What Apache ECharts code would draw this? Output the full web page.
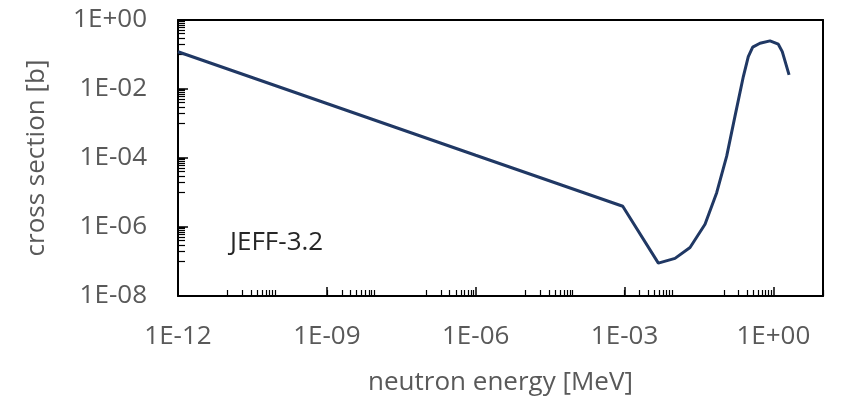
<!DOCTYPE html>
<html>
<head>
<meta charset="utf-8">
<script src="https://cdn.jsdelivr.net/npm/echarts@6/dist/echarts.min.js"></script>
<style>
    html, body { margin: 0; padding: 0; background: #fff; }
    #chart { width: 841px; height: 401px; }
</style>
</head>
<body>
<div id="chart"></div>
<script>
// neutron energy [MeV] and cross section [b]
var energy = [1e-12, 1e-9, 1e-6, 9.2e-4, 4.8e-3, 1.04e-2, 2.09e-2, 4.19e-2, 7.2e-2, 0.1145,
    0.168, 0.248, 0.312, 0.383, 0.537, 0.855, 1.256, 1.51, 2.07];
var xs = [0.12, 3.8e-3, 1.2e-4, 4.0e-6, 8.97e-8, 1.23e-7, 2.55e-7, 1.2e-6, 9.9e-6, 1.13e-4,
    1.61e-3, 2.3e-2, 8.7e-2, 0.163, 0.212, 0.248, 0.199, 0.121, 0.0258];

// axis labels (powers of ten)
var xLabelExp = [-12, -9, -6, -3, 0];
var yLabelExp = [-8, -6, -4, -2, 0];
// decades that carry the small tick marks
var xMinorDecades = [-11, -9, -7, -5, -3, -1];
var yMinorDecades = [-1, -3, -5, -7];

var textColor = '#595959';
var font = '"Open Sans", "Noto Sans", sans-serif';

function log10(v) { return Math.log(v) / Math.LN10; }

function minorTicks(decades, withTop) {
    var out = [];
    decades.forEach(function (d) {
        for (var k = 1; k <= 9; k++) {
            out.push(d + log10(k));
        }
        if (withTop) out.push(d + 1);
    });
    return out;
}

function expLabel(v) {
    var n = Math.round(v);
    var s = Math.abs(n) < 10 ? '0' + Math.abs(n) : '' + Math.abs(n);
    return '1E' + (n < 0 ? '-' : '+') + s;
}

var seriesData = [];
for (var i = 0; i < energy.length; i++) {
    seriesData.push([log10(energy[i]), log10(xs[i])]);
}

var xTickMinor = minorTicks(xMinorDecades, false);
xTickMinor.push(1);
var yTickMinor = minorTicks(yMinorDecades, true);

var myChart = echarts.init(document.getElementById('chart'));
var option = {
    animation: false,
    backgroundColor: '#fff',
    grid: {
        left: 178,
        right: 18,
        top: 20,
        bottom: 104
    },
    xAxis: [{
        type: 'value',
        min: -12,
        max: 1,
        position: 'bottom',
        name: 'neutron energy [MeV]',
        nameLocation: 'middle',
        nameGap: 74,
        nameTextStyle: { color: textColor, fontSize: 26, fontFamily: font },
        axisLine: { show: true, onZero: false, lineStyle: { color: '#000', width: 2 } },
        axisTick: { show: true, inside: true, length: 9, customValues: xLabelExp,
            lineStyle: { color: '#000', width: 1.5 } },
        axisLabel: { customValues: xLabelExp, formatter: expLabel, margin: 28,
            color: textColor, fontSize: 26, fontFamily: font },
        splitLine: { show: false }
    }, {
        type: 'value',
        min: -12,
        max: 1,
        position: 'bottom',
        axisLine: { show: false, onZero: false },
        axisTick: { show: true, inside: true, length: 6, customValues: xTickMinor,
            lineStyle: { color: '#000', width: 1.2 } },
        axisLabel: { show: false },
        splitLine: { show: false }
    }, {
        type: 'value',
        min: -12,
        max: 1,
        position: 'top',
        axisLine: { show: true, onZero: false, lineStyle: { color: '#000', width: 2 } },
        axisTick: { show: false },
        axisLabel: { show: false },
        splitLine: { show: false }
    }],
    yAxis: [{
        type: 'value',
        min: -8,
        max: 0,
        position: 'left',
        name: 'cross section [b]',
        nameLocation: 'middle',
        nameGap: 128,
        nameTextStyle: { color: textColor, fontSize: 26, fontFamily: font },
        axisLine: { show: true, onZero: false, lineStyle: { color: '#000', width: 2 } },
        axisTick: { show: true, inside: true, length: 10, customValues: yLabelExp,
            lineStyle: { color: '#000', width: 1.5 } },
        axisLabel: { customValues: yLabelExp, formatter: expLabel, margin: 31,
            color: textColor, fontSize: 26, fontFamily: font },
        splitLine: { show: false }
    }, {
        type: 'value',
        min: -8,
        max: 0,
        position: 'left',
        axisLine: { show: false, onZero: false },
        axisTick: { show: true, inside: true, length: 7, customValues: yTickMinor,
            lineStyle: { color: '#000', width: 1.2 } },
        axisLabel: { show: false },
        splitLine: { show: false }
    }, {
        type: 'value',
        min: -8,
        max: 0,
        position: 'right',
        axisLine: { show: true, onZero: false, lineStyle: { color: '#000', width: 2 } },
        axisTick: { show: false },
        axisLabel: { show: false },
        splitLine: { show: false }
    }],
    graphic: [{
        type: 'text',
        left: 230,
        top: 230,
        style: {
            text: 'JEFF-3.2',
            fill: '#262626',
            font: '26px ' + font
        }
    }],
    series: [{
        name: 'JEFF-3.2',
        type: 'line',
        xAxisIndex: 0,
        yAxisIndex: 0,
        showSymbol: false,
        smooth: false,
        data: seriesData,
        lineStyle: { color: '#203864', width: 3 }
    }]
};
myChart.setOption(option);
</script>
</body>
</html>
